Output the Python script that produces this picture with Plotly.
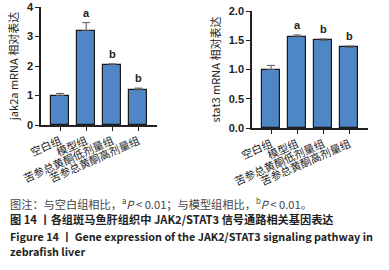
import plotly.graph_objects as go

categories = ["空白组", "模型组", "苦参总黄酮低剂量组", "苦参总黄酮高剂量组"]
jak2a_values = [1.0, 3.2, 2.05, 1.2]
jak2a_errors = [0.07, 0.27, 0.02, 0.05]
jak2a_marks = ["", "a", "b", "b"]
stat3_values = [1.0, 1.56, 1.5, 1.38]
stat3_errors = [0.07, 0.03, 0.02, 0.02]
stat3_marks = ["", "a", "b", "b"]

W, H = 389, 270
BAR = "#4f86c6"
FONT = "Noto Sans CJK SC, Liberation Sans, Arial"

fig = go.Figure()
for vals, errs, ax in [(jak2a_values, jak2a_errors, ""), (stat3_values, stat3_errors, "2")]:
    fig.add_trace(go.Bar(
        x=list(range(4)), y=vals, width=0.69,
        marker=dict(color=BAR, line=dict(color="#1a1a1a", width=1.2)),
        error_y=dict(type="data", array=errs, arrayminus=[0]*4, symmetric=False,
                     color="#555555", thickness=1, width=4),
        xaxis="x" + ax, yaxis="y" + ax, showlegend=False,
    ))

def px_x(a, b):
    return [a / W, b / W]

def px_y(bottom, top):
    return [1 - bottom / H, 1 - top / H]

common_x = dict(tickmode="array", tickvals=list(range(4)), ticktext=categories,
                tickangle=-24, showline=True, linecolor="#222", linewidth=1.5,
                ticks="outside", ticklen=4, tickcolor="#222", showgrid=False,
                zeroline=False, automargin=False,
                tickfont=dict(size=10.8, color="#222", family=FONT),
                range=[-0.73, 3.71])
common_y = dict(showline=True, linecolor="#222", linewidth=1.5, ticks="outside",
                ticklen=4, tickcolor="#222", showgrid=False, zeroline=False,
                automargin=False,
                tickfont=dict(size=11, color="#222", family="Liberation Sans", weight="bold"))

fig.update_layout(
    width=W, height=H, margin=dict(l=0, r=0, t=0, b=0),
    paper_bgcolor="white", plot_bgcolor="white", bargap=0,
    xaxis=dict(domain=px_x(41, 157), anchor="y", **common_x),
    yaxis=dict(domain=px_y(125, 7), anchor="x", range=[0, 4], tickvals=[0, 1, 2, 3, 4],
               title=dict(text="jak2a mRNA 相对表达", font=dict(size=11, color="#222", family=FONT), standoff=6),
               **common_y),
    xaxis2=dict(domain=px_x(252, 368), anchor="y2", **common_x),
    yaxis2=dict(domain=px_y(128, 11), anchor="x2", range=[0, 2], tickvals=[0, 0.5, 1, 1.5, 2],
                tickformat=".1f",
                title=dict(text="stat3 mRNA 相对表达", font=dict(size=11, color="#222", family=FONT), standoff=6),
                **common_y),
)

for vals, errs, marks, xa, ya in [(jak2a_values, jak2a_errors, jak2a_marks, "x", "y"),
                                  (stat3_values, stat3_errors, stat3_marks, "x2", "y2")]:
    for i, m in enumerate(marks):
        if m:
            fig.add_annotation(x=i, y=vals[i] + errs[i], xref=xa, yref=ya, text=m,
                               showarrow=False, yanchor="bottom", yshift=2,
                               font=dict(size=11, color="#222", family="Liberation Sans", weight="bold"))

captions = [
    ("图注：与空白组相比，<sup>a</sup><i>P</i> < 0.01；与模型组相比，<sup>b</sup><i>P</i> < 0.01。", 203, 11.2, "#444"),
    ("<b>图 14 丨各组斑马鱼肝组织中 JAK2/STAT3 信号通路相关基因表达</b>", 219, 11.2, "#222"),
    ("<b>Figure 14 丨 Gene expression of the JAK2/STAT3 signaling pathway in</b>", 236, 10.8, "#222"),
    ("<b>zebrafish liver</b>", 251, 10.8, "#222"),
]
for text, y, size, col in captions:
    fig.add_annotation(x=8 / W, y=1 - y / H, xref="paper", yref="paper", text=text,
                       showarrow=False, xanchor="left", yanchor="middle",
                       font=dict(size=size, color=col, family=FONT))

fig.write_html("out.html", config={"displayModeBar": False},
               post_script="document.body.style.margin='0';")
